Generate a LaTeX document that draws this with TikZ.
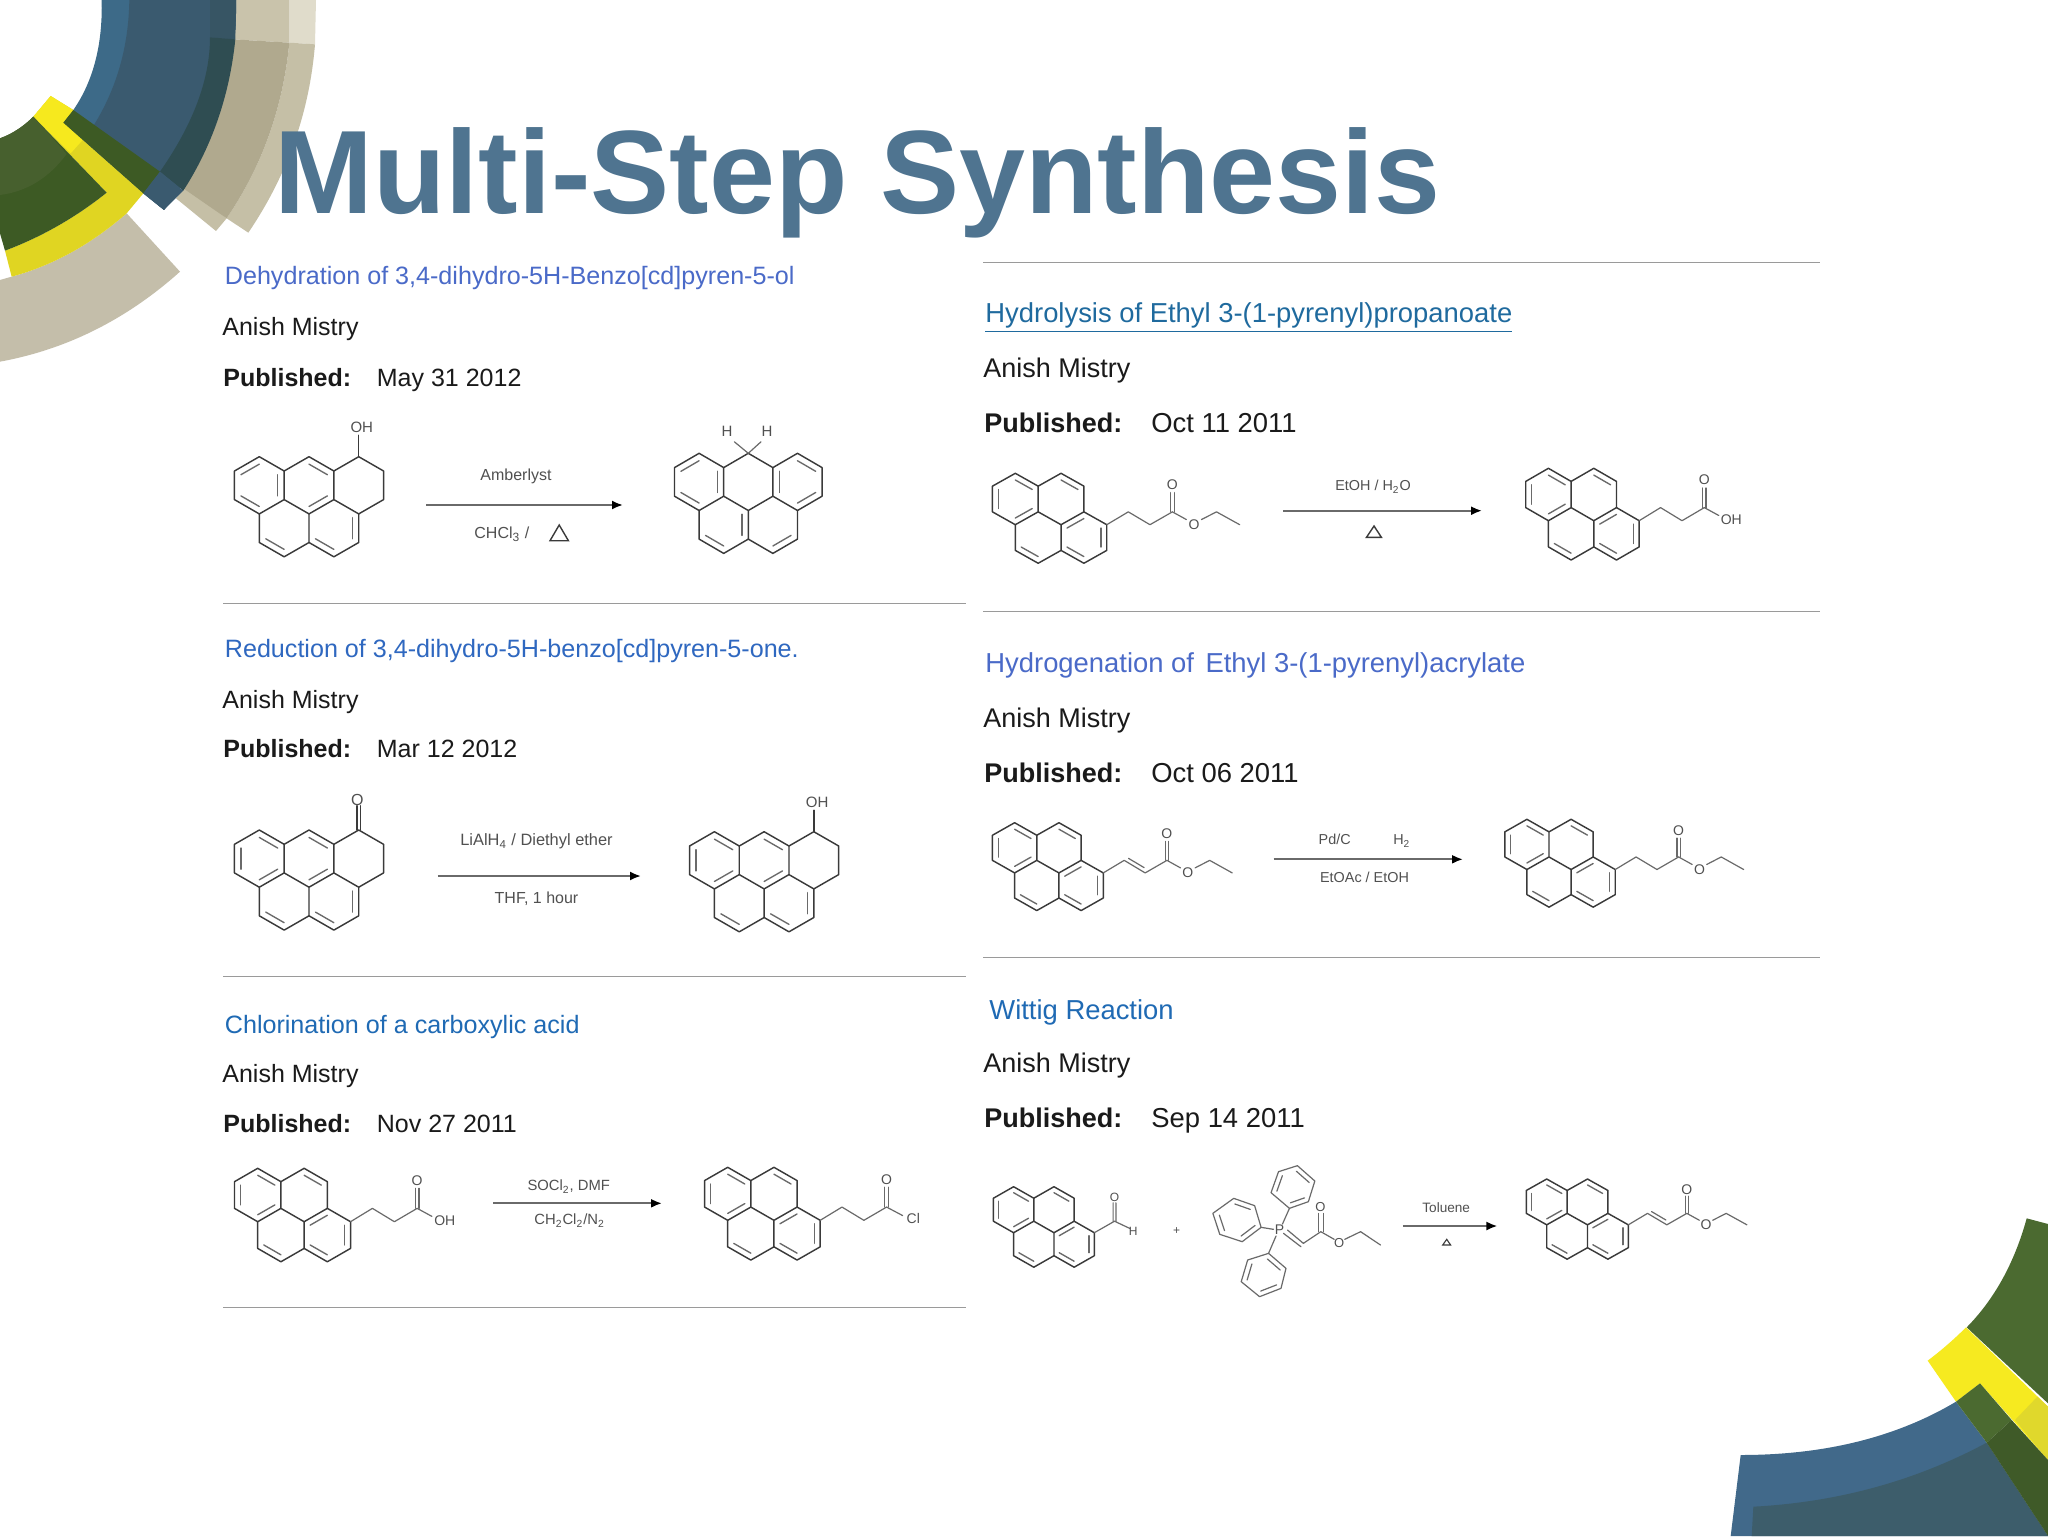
\documentclass[tikz,border=0pt]{standalone}
\usepackage{fontspec}
\setmainfont{Liberation Sans}
\usetikzlibrary{calc,arrows.meta}
\definecolor{titleblue}{HTML}{4F7490}
\definecolor{linkA}{HTML}{4A6AC8}
\definecolor{linkB}{HTML}{2F68C0}
\definecolor{linkC}{HTML}{1F6AB4}
\definecolor{linkD}{HTML}{1F6A9E}
\definecolor{bodytx}{HTML}{1A1A1A}
\definecolor{rulegray}{HTML}{9A9A9A}
\definecolor{bondcol}{HTML}{3A3A3A}
\definecolor{innercol}{HTML}{6A6A6A}
\definecolor{lblcol}{HTML}{505050}
\tikzset{
  bond/.style={draw=bondcol,line width=0.72pt,line join=round,line cap=round},
  inbond/.style={draw=innercol,line width=0.68pt,line cap=round},
  sbond/.style={draw=innercol,line width=0.6pt,line join=round,line cap=round},
  atomlbl/.style={font=\fontsize{7}{8}\selectfont,text=lblcol,inner sep=0pt},
  reag/.style={font=\fontsize{7.2}{8.5}\selectfont,text=lblcol,inner sep=0pt},
  rxn/.style={draw=innercol,line width=1pt,-{Latex[length=5.5pt,width=4.5pt,color=black]}},
  tri/.style={draw=bondcol,line width=0.7pt,line join=miter},
  hrule/.style={draw=rulegray,line width=0.9pt},
  lt/.style={anchor=west,inner sep=0pt,text height=9pt,text depth=2.5pt,font=\fontsize{12.5}{15}\selectfont,text=bodytx},
  rt/.style={anchor=west,inner sep=0pt,text height=10pt,text depth=2.5pt,font=\fontsize{13.5}{16}\selectfont,text=bodytx},
  lhead/.style={lt,font=\fontsize{12.56}{15}\selectfont},
  rhead/.style={rt,font=\fontsize{13.7}{16}\selectfont},
}
% quadratic arc piece: from point 1, pulled towards point 2, to point 3
\newcommand{\qc}[3]{.. controls ($(#1)!.6667!(#2)$) and ($(#3)!.6667!(#2)$) .. (#3)}
\newcommand{\hexdbl}[6]{\draw[inbond] ($(#1,#2)!.74!(#3,#4)$) -- ($(#1,#2)!.74!(#5,#6)$);}
% pyrene, origin at the centre of the upper left ring
\newcommand{\pyreneskel}{%
  \draw[bond] (0,-1)--(.866,-.5)--(1.732,-1)--(2.598,-.5)--(2.598,.5)--(3.464,1)--(3.464,2)--(2.598,2.5)--(1.732,2)--(.866,2.5)--(0,2)--(0,1)--(-.866,.5)--(-.866,-.5)--cycle;
  \draw[bond] (.866,-.5)--(.866,.5)--(0,1) (.866,.5)--(1.732,1)--(2.598,.5) (1.732,1)--(1.732,2);
  \hexdbl{0}{0}{0}{-1}{.866}{-.5}
  \hexdbl{0}{0}{-.866}{-.5}{-.866}{.5}
  \hexdbl{0}{0}{0}{1}{.866}{.5}
  \hexdbl{1.732}{0}{1.732}{-1}{2.598}{-.5}
  \hexdbl{2.598}{1.5}{2.598}{.5}{1.732}{1}
  \hexdbl{2.598}{1.5}{3.464}{1}{3.464}{2}
  \hexdbl{2.598}{1.5}{2.598}{2.5}{1.732}{2}
  \hexdbl{.866}{1.5}{.866}{2.5}{0}{2}
}
% five ring skeleton
\newcommand{\benzskel}{%
  \draw[bond] (0,-1)--(.866,-.5)--(1.732,-1)--(2.598,-.5)--(3.464,-1)--(4.33,-.5)--(4.33,.5)--(3.464,1)--(3.464,2)--(2.598,2.5)--(1.732,2)--(.866,2.5)--(0,2)--(0,1)--(-.866,.5)--(-.866,-.5)--cycle;
  \draw[bond] (.866,-.5)--(.866,.5)--(0,1) (.866,.5)--(1.732,1)--(2.598,.5)--(2.598,-.5) (2.598,.5)--(3.464,1) (1.732,1)--(1.732,2);
}
\newcommand{\benzbonds}{% ketone and alcohol pattern
  \hexdbl{0}{0}{-.866}{-.5}{-.866}{.5}
  \hexdbl{0}{0}{0}{-1}{.866}{-.5}
  \hexdbl{0}{0}{0}{1}{.866}{.5}
  \hexdbl{1.732}{0}{1.732}{-1}{2.598}{-.5}
  \hexdbl{1.732}{0}{1.732}{1}{2.598}{.5}
  \hexdbl{2.598}{1.5}{3.464}{1}{3.464}{2}
  \hexdbl{2.598}{1.5}{1.732}{2}{2.598}{2.5}
  \hexdbl{.866}{1.5}{0}{2}{.866}{2.5}
}
\newcommand{\chainsat}{\draw[sbond] (3.464,1)--(4.28,.5)--(5.1,1)--(5.95,.5);}
\newcommand{\chainene}{\draw[sbond] (3.464,1)--(4.28,.5)--(5.1,1)--(5.95,.5);\draw[sbond] (4.45,.42)--(5.06,.79);}
\newcommand{\carbonyl}[1]{%
  \draw[sbond] (5.885,.5)--(5.885,-.25) (6.015,.5)--(6.015,-.25);
  \node[atomlbl] (#1o) at (5.95,-.55) {O};}
\newcommand{\esterend}[1]{%
  \draw[sbond] (5.95,.5)--(6.48,.8) (7.05,.8)--(7.62,.5)--(8.5,1);
  \node[atomlbl] (#1e) at (6.77,1) {O};}
\newcommand{\acidend}[1]{%
  \draw[sbond] (5.95,.5)--(6.5,.8);
  \node[atomlbl] (#1h) at (6.98,.96) {OH};}
\newcommand{\phenylring}[6]{%
  \draw[sbond] (#1)--(#2)--(#3)--(#4)--(#5)--(#6)--cycle;
  \coordinate (rc) at ($(#1)!.5!(#4)$);
  \draw[sbond] ($(rc)!.74!(#1)$)--($(rc)!.74!(#2)$) ($(rc)!.74!(#3)$)--($(rc)!.74!(#4)$) ($(rc)!.74!(#5)$)--($(rc)!.74!(#6)$);}
\begin{document}
\begin{tikzpicture}[x=0.5pt,y=-0.5pt]
\useasboundingbox (0,0) rectangle (2048,1536);
\fill[white] (0,0) rectangle (2048,1536);

% ---------- top left corner ----------
\begin{scope}[scale=0.33333]
  \definecolor{tA}{HTML}{E0DCCB}\definecolor{tB}{HTML}{C9C3AB}\definecolor{tC}{HTML}{B0A98E}\definecolor{tD}{HTML}{C5BFA6}
  \fill[tA] (868,0)--(948,0)--(945,133)--(868,128)--cycle;
  \fill[tB] (700,0)--(868,0)--(868,128)--(700,118)--cycle;
  \fill[tD] (868,128)--(945,133) \qc{945,133}{920,440}{745,698}--(680,655) \qc{680,655}{840,420}{868,128}--cycle;
  \fill[tD] (528,595)--(555,560)--(680,655)--(648,693)--cycle;
  \fill[tC] (700,118)--(868,128) \qc{868,128}{840,420}{680,655}--(550,565)--(600,400)--cycle;
  % blue band
  \definecolor{bA}{HTML}{3D6A88}\definecolor{bB}{HTML}{3A5A6F}\definecolor{bC}{HTML}{2F4D52}\definecolor{bD}{HTML}{375564}
  \fill[bA] (305,0) \qc{305,0}{310,200}{220,330}--(190,368)--(430,580)--(492,630) \qc{492,630}{715,340}{708,0}--cycle;
  \fill[bB] (388,0) \qc{388,0}{385,210}{280,378}--(430,580)--(492,630) \qc{492,630}{715,340}{708,0}--cycle;
  \fill[bD] (630,0)--(708,0)--(706,118)--(630,112)--cycle;
  \fill[bC] (630,112)--(706,118) \qc{706,118}{680,370}{550,572}--(480,515) \qc{480,515}{630,300}{630,112}--cycle;
  % tan lower band
  \definecolor{tE}{HTML}{C4BEAA}
  \fill[tE] (380,640)--(540,815) \qc{540,815}{300,1030}{0,1085}--(0,840)--(35,830) \qc{35,830}{220,780}{380,640}--cycle;
  % yellow
  \definecolor{yA}{HTML}{F6E91E}\definecolor{yB}{HTML}{E0D522}
  \fill[yB] (152,288)--(220,330)--(190,368)--(430,580)--(380,640) \qc{380,640}{220,780}{35,830}--(15,752) \qc{15,752}{180,690}{320,578}--(100,350)--cycle;
  \fill[yA] (152,288)--(220,330)--(190,368)--(248,420)--(212,460)--(100,350)--cycle;
  % green
  \definecolor{gA}{HTML}{3D5A24}\definecolor{gB}{HTML}{47602E}
  \fill[gA] (100,350)--(320,578) \qc{320,578}{180,690}{15,752}--(0,700)--(0,415) \qc{0,415}{55,395}{100,350}--cycle;
  \fill[gB] (100,350)--(200,462) \qc{200,462}{120,570}{0,585}--(0,415) \qc{0,415}{55,395}{100,350}--cycle;
  \fill[gA] (190,368)--(220,330)--(480,515)--(430,580)--cycle;
  \fill[bB] (430,580)--(480,515)--(550,572)--(492,630)--cycle;
\end{scope}

% ---------- bottom right corner ----------
\begin{scope}[shift={(1700,1200)},scale=0.33333]
  \definecolor{cG}{HTML}{4B6A30}\definecolor{cH}{HTML}{3F5A28}\definecolor{cY}{HTML}{F6EA20}\definecolor{cZ}{HTML}{E0D82C}\definecolor{cB}{HTML}{41698A}\definecolor{cC}{HTML}{3D5D6B}
  \fill[cB] (122,765) \qc{122,765}{500,765}{768,605}--(860,728)--(1044,1008)--(92,1008)--cycle;
  \fill[cC] (160,920) \qc{160,920}{540,900}{860,728}--(1044,1008)--(155,1008)--cycle;
  \fill[cG] (980,55)--(1044,72)--(1044,610)--(800,382) \qc{800,382}{925,255}{980,55}--cycle;
  \fill[cY] (798,382)--(1044,620)--(1044,780)--(840,550)--(768,605)--(683,482) \qc{683,482}{745,435}{798,382}--cycle;
  \fill[cZ] (1012,590)--(1044,620)--(1044,780)--(945,660)--cycle;
  \fill[cG] (840,550)--(935,660)--(860,728)--(768,605)--cycle;
  \fill[cH] (935,660)--(1044,780)--(1044,1008)--(860,728)--cycle;
\end{scope}

% ---------- title ----------
\node[anchor=base west,inner sep=0pt,font=\bfseries\fontsize{59.3}{70}\selectfont,text=titleblue] (title) at (274,213) {Multi-Step Synthesis};

% ---------- left column texts ----------
\node[lhead,text=linkA] (a1) at (224.5,278) {Dehydration of 3,4-dihydro-5H-Benzo[cd]pyren-5-ol};
\node[lt] (a2) at (222,329) {Anish Mistry};
\node[lt] (a3) at (223,380) {\textbf{Published:}};
\node[lt] (a4) at (376.5,380) {May 31 2012};
\node[lhead,text=linkB] (b1) at (224.5,651) {Reduction of 3,4-dihydro-5H-benzo[cd]pyren-5-one.};
\node[lt] (b2) at (222,702) {Anish Mistry};
\node[lt] (b3) at (223,751) {\textbf{Published:}};
\node[lt] (b4) at (376.5,751) {Mar 12 2012};
\node[lhead,text=linkC] (c1) at (224.5,1027) {Chlorination of a carboxylic acid};
\node[lt] (c2) at (222,1076) {Anish Mistry};
\node[lt] (c3) at (223,1126) {\textbf{Published:}};
\node[lt] (c4) at (376.5,1126) {Nov 27 2011};
% ---------- right column texts ----------
\node[rhead,text=linkD] (d1) at (985,315) {\underline{Hydrolysis of Ethyl 3-(1-pyrenyl)propanoate}};
\node[rt] (d2) at (983,370) {Anish Mistry};
\node[rt] (d3) at (984,425) {\textbf{Published:}};
\node[rhead] (d4) at (1151,425) {Oct 11 2011};
\node[rhead,text=linkA] (e1) at (985,665) {Hydrogenation of\hspace{.42em}Ethyl 3-(1-pyrenyl)acrylate};
\node[rt] (e2) at (983,720) {Anish Mistry};
\node[rt] (e3) at (984,775) {\textbf{Published:}};
\node[rhead] (e4) at (1151,775) {Oct 06 2011};
\node[rhead,text=linkC] (f1) at (989,1011.5) {Wittig Reaction};
\node[rt] (f2) at (983,1064.5) {Anish Mistry};
\node[rt] (f3) at (984,1120) {\textbf{Published:}};
\node[rhead] (f4) at (1151,1120) {Sep 14 2011};

% ---------- rules ----------
\draw[hrule] (223,603.5)--(966,603.5) (223,976.5)--(966,976.5) (223,1307.5)--(966,1307.5);
\draw[hrule] (983,262.5)--(1820,262.5) (983,611.5)--(1820,611.5) (983,957.5)--(1820,957.5);

% ---------- reaction 1 ----------
\begin{scope}[shift={(259.3,485.3)},xscale=28.7,yscale=28.6]
  \benzskel
  \hexdbl{0}{0}{-.866}{-.5}{0}{-1}
  \hexdbl{0}{0}{.866}{-.5}{.866}{.5}
  \hexdbl{0}{0}{-.866}{.5}{0}{1}
  \hexdbl{1.732}{0}{1.732}{-1}{2.598}{-.5}
  \hexdbl{1.732}{0}{1.732}{1}{2.598}{.5}
  \hexdbl{2.598}{1.5}{3.464}{1}{3.464}{2}
  \hexdbl{2.598}{1.5}{1.732}{2}{2.598}{2.5}
  \hexdbl{.866}{1.5}{0}{2}{.866}{2.5}
  \draw[bond] (3.464,-1)--(3.464,-1.75);
  \node[atomlbl,font=\fontsize{7.5}{9}\selectfont] (oh1) at (3.57,-2.04) {OH};
\end{scope}
\begin{scope}[shift={(699.1,481.9)},xscale=28.4,yscale=28.6]
  \benzskel
  \hexdbl{0}{0}{-.866}{-.5}{0}{-1}
  \hexdbl{0}{0}{.866}{-.5}{.866}{.5}
  \hexdbl{0}{0}{-.866}{.5}{0}{1}
  \hexdbl{3.464}{0}{3.464}{-1}{4.33}{-.5}
  \hexdbl{3.464}{0}{4.33}{.5}{3.464}{1}
  \hexdbl{3.464}{0}{2.598}{-.5}{2.598}{.5}
  \hexdbl{.866}{1.5}{1.732}{1}{1.732}{2}
  \hexdbl{.866}{1.5}{0}{2}{.866}{2.5}
  \hexdbl{2.598}{1.5}{2.598}{2.5}{3.464}{2}
  \draw[sbond] (1.244,-1.4)--(1.732,-1)--(2.176,-1.4);
  \node[atomlbl,font=\fontsize{7.5}{9}\selectfont] (h1) at (.986,-1.755) {H};
  \node[atomlbl,font=\fontsize{7.5}{9}\selectfont] (h2) at (2.394,-1.755) {H};
\end{scope}
\coordinate (r1s) at (426.3,505); \coordinate (r1e) at (623,505);
\draw[rxn] (r1s)--(r1e);
\node[reag,font=\fontsize{8}{9}\selectfont] (r1a) at (516,476.7) {Amberlyst};
\node[reag,font=\fontsize{8}{9}\selectfont] (r1b) at (501.8,534) {CHCl\textsubscript{3} /};
\draw[tri] (550,540.7)--(568.4,540.7)--(559.2,525)--cycle;

% ---------- reaction 2 ----------
\begin{scope}[shift={(259.3,858.6)},xscale=28.7,yscale=28.6]
  \benzskel\benzbonds
  \draw[bond] (3.40,-1)--(3.40,-1.85) (3.53,-1)--(3.53,-1.85);
  \node[atomlbl,font=\fontsize{8}{9}\selectfont] (o2) at (3.42,-2.05) {O};
\end{scope}
\begin{scope}[shift={(714.4,860.3)},xscale=28.7,yscale=28.6]
  \benzskel\benzbonds
  \draw[bond] (3.464,-1)--(3.464,-1.75);
  \node[atomlbl,font=\fontsize{7.5}{9}\selectfont] (oh2) at (3.58,-2.02) {OH};
\end{scope}
\coordinate (r2s) at (437.8,876); \coordinate (r2e) at (641,876);
\draw[rxn] (r2s)--(r2e);
\node[reag,font=\fontsize{8.2}{9.5}\selectfont] (r2a) at (536.5,841.7) {LiAlH\textsubscript{4} / Diethyl ether};
\node[reag,font=\fontsize{8}{9.5}\selectfont] (r2b) at (536.5,898.3) {THF, 1 hour};

% ---------- reaction 3 ----------
\begin{scope}[shift={(257.7,1195)},xscale=26.8,yscale=26.7]
  \pyreneskel\chainsat\carbonyl{m3a}\acidend{m3a}
\end{scope}
\begin{scope}[shift={(727.7,1193.8)},xscale=26.7,yscale=26.5]
  \pyreneskel\chainsat\carbonyl{m3b}
  \draw[sbond] (5.95,.5)--(6.55,.82);
  \node[atomlbl] (cl3) at (6.95,.92) {Cl};
\end{scope}
\coordinate (r3s) at (493,1203.3); \coordinate (r3e) at (662,1203.3);
\draw[rxn] (r3s)--(r3e);
\node[reag,font=\fontsize{7.4}{8.5}\selectfont] (r3a) at (568.7,1186.7) {SOCl\textsubscript{2}, DMF};
\node[reag,font=\fontsize{7.4}{8.5}\selectfont] (r3b) at (569.6,1220.7) {CH\textsubscript{2}Cl\textsubscript{2}/N\textsubscript{2}};

% ---------- reaction 4 ----------
\begin{scope}[shift={(1015.3,499)},xscale=26.4,yscale=25.7]
  \pyreneskel\chainsat\carbonyl{m4a}\esterend{m4a}
\end{scope}
\begin{scope}[shift={(1548.4,494.5)},xscale=26.2,yscale=26.2]
  \pyreneskel\chainsat\carbonyl{m4b}\acidend{m4b}
\end{scope}
\coordinate (r4s) at (1283.4,510.7); \coordinate (r4e) at (1482,510.7);
\draw[rxn] (r4s)--(r4e);
\node[reag] (r4a) at (1373,486.7) {EtOH / H\textsubscript{2}O};
\draw[tri] (1366.5,537.3)--(1381.4,537.3)--(1374,526)--cycle;

% ---------- reaction 5 ----------
\begin{scope}[shift={(1014.6,847.8)},xscale=25.6,yscale=25.1]
  \pyreneskel\chainene\carbonyl{m5a}\esterend{m5a}
\end{scope}
\begin{scope}[shift={(1526.9,844.4)},xscale=25.5,yscale=25.1]
  \pyreneskel\chainsat\carbonyl{m5b}\esterend{m5b}
\end{scope}
\coordinate (r5s) at (1273.5,859.3); \coordinate (r5e) at (1463,859.3);
\draw[rxn] (r5s)--(r5e);
\node[reag] (r5a) at (1334.7,839.3) {Pd/C};
\node[reag] (r5b) at (1401.8,841) {H\textsubscript{2}};
\node[reag] (r5c) at (1364.5,877.3) {EtOAc / EtOH};

% ---------- reaction 6 ----------
\begin{scope}[shift={(1013.6,1209.7)},xscale=23.3,yscale=23]
  \pyreneskel
  \draw[sbond] (3.464,1)--(4.33,.5)--(5,.82) (4.27,.5)--(4.27,-.3) (4.39,.5)--(4.39,-.3);
  \node[atomlbl,font=\fontsize{6}{7}\selectfont] (o6) at (4.33,-.54) {O};
  \node[atomlbl,font=\fontsize{6}{7}\selectfont] (h6) at (5.13,.93) {H};
\end{scope}
\node[reag,font=\fontsize{6}{7}\selectfont] (plus) at (1176.5,1231) {+};
\begin{scope}[shift={(980,1150)},xscale=.4975,yscale=.33333]
  \phenylring{638,47}{673,93}{660,155}{622,175}{585,128}{600,65}
  \phenylring{510,145}{552,167}{565,232}{527,275}{482,253}{468,190}
  \phenylring{580,310}{615,355}{605,415}{562,440}{525,395}{538,330}
  \node[atomlbl,font=\fontsize{7}{8}\selectfont] (p6) at (602,240) {P};
  \draw[sbond] (608,222)--(622,175) (565,232)--(590,238) (595,258)--(580,310);
  \draw[sbond] (618,240)--(650,280)--(685,245)--(712,268) (610,250)--(645,290);
  \draw[sbond] (680,245)--(680,190) (690,245)--(690,190);
  \node[atomlbl,font=\fontsize{6.5}{7}\selectfont] (o6a) at (684,172) {O};
  \node[atomlbl,font=\fontsize{6.5}{7}\selectfont] (o6b) at (722,278) {O};
  \draw[sbond] (733,268)--(765,245)--(805,285);
\end{scope}
\begin{scope}[shift={(1546.7,1201.9)},xscale=23.55,yscale=22.9]
  \pyreneskel\chainene
  \carbonyl{m6b}\esterend{m6b}
\end{scope}
\coordinate (r6s) at (1402.9,1226); \coordinate (r6e) at (1497.4,1226);
\draw[rxn] (r6s)--(r6e);
\node[reag,font=\fontsize{6.8}{8}\selectfont] (r6a) at (1446.2,1207.3) {Toluene};
\draw[tri,line width=.55pt] (1442.7,1245)--(1450.6,1245)--(1446.7,1239.3)--cycle;
\end{tikzpicture}
\end{document}
